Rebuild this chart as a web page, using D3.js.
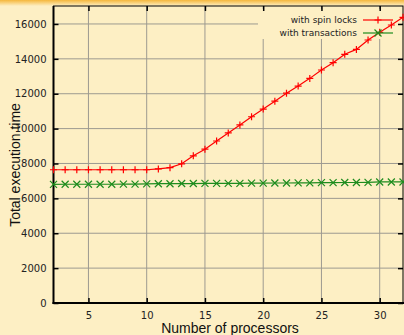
<!DOCTYPE html>
<html>
<head>
<meta charset="utf-8">
<script src="https://cdn.jsdelivr.net/npm/d3@7"></script>
<style>
  body { margin: 0; background: #fdefc4; }
  svg { display: block; font-family: "DejaVu Sans", sans-serif; }
</style>
</head>
<body>
<svg id="chart" width="404" height="335"></svg>
<script>
// processors 2..32
const processors = [2,3,4,5,6,7,8,9,10,11,12,13,14,15,16,17,18,19,20,21,22,23,24,25,26,27,28,29,30,31,32];
const spinLocks = [7640,7640,7640,7640,7640,7640,7640,7640,7640,7690,7760,7980,8440,8820,9290,9750,10210,10680,11120,11570,12030,12440,12880,13360,13780,14260,14540,15080,15520,15940,16380];
const transactions = [6800,6810,6810,6810,6810,6810,6820,6820,6830,6840,6840,6850,6850,6860,6860,6860,6860,6870,6870,6880,6880,6890,6890,6900,6900,6910,6910,6920,6940,6940,6940];
const xTicks = [5,10,15,20,25,30];
const yTicks = [0,2000,4000,6000,8000,10000,12000,14000,16000];

const svg = d3.select("#chart");
const W = 404, H = 335;
const m = {left: 53.5, right: 1, top: 6, bottom: 32};

// top orange strip
const grad = svg.append("defs").append("linearGradient")
  .attr("id", "topbar").attr("x1", 0).attr("y1", 0).attr("x2", 0).attr("y2", 1);
grad.append("stop").attr("offset", "0%").attr("stop-color", "#f5b73c");
grad.append("stop").attr("offset", "100%").attr("stop-color", "#fdefc4");
svg.append("rect").attr("width", W).attr("height", H).attr("fill", "#fdefc4");
svg.append("rect").attr("width", W).attr("height", 6).attr("fill", "url(#topbar)");

const x = d3.scaleLinear().domain([2, 32]).range([m.left, W - m.right]);
const y = d3.scaleLinear().domain([0, 17030]).range([H - m.bottom, m.top]);

// grid
const grid = svg.append("g").attr("stroke", "#9d9a90").attr("stroke-width", 1);
grid.selectAll(".gx").data(xTicks).join("line")
  .attr("x1", d => x(d)).attr("x2", d => x(d))
  .attr("y1", y(0)).attr("y2", y.range()[1]);
grid.selectAll(".gy").data(yTicks.filter(d => d > 0)).join("line")
  .attr("x1", m.left).attr("x2", W - m.right)
  .attr("y1", d => y(d)).attr("y2", d => y(d));

// legend background covers grid
svg.append("rect").attr("x", 258).attr("y", 9).attr("width", 144).attr("height", 30)
  .attr("fill", "#fdefc4");

// frame
svg.append("rect").attr("x", m.left).attr("y", m.top)
  .attr("width", W - m.right - m.left).attr("height", y(0) - m.top)
  .attr("fill", "none").attr("stroke", "#000").attr("stroke-width", 1);
svg.append("line").attr("x1", m.left).attr("x2", m.left).attr("y1", m.top).attr("y2", y(0) + 1)
  .attr("stroke", "#000").attr("stroke-width", 2);
svg.append("line").attr("x1", m.left - 1).attr("x2", W).attr("y1", y(0)).attr("y2", y(0))
  .attr("stroke", "#000").attr("stroke-width", 2);

// axes with inward ticks
const fmt = d3.format("d");
const xAxis = svg.append("g").attr("transform", `translate(0,${y(0)})`)
  .call(d3.axisBottom(x).tickValues(xTicks).tickSize(-5).tickPadding(9).tickFormat(fmt));
const xTop = svg.append("g").attr("transform", `translate(0,${m.top})`)
  .call(d3.axisTop(x).tickValues(xTicks).tickSize(-5).tickFormat(""));
const yAxis = svg.append("g").attr("transform", `translate(${m.left},0)`)
  .call(d3.axisLeft(y).tickValues(yTicks).tickSize(-5).tickPadding(7).tickFormat(fmt));
const yRight = svg.append("g").attr("transform", `translate(${W - m.right},0)`)
  .call(d3.axisRight(y).tickValues(yTicks).tickSize(-5).tickFormat(""));
[xAxis, xTop, yAxis, yRight].forEach(g => {
  g.select(".domain").remove();
  g.selectAll(".tick line").attr("stroke", "#000").attr("stroke-width", 1.5);
  g.selectAll("text").attr("fill", "#222").attr("font-size", 10)
    .attr("font-family", "DejaVu Sans, sans-serif");
});

// series
const series = [
  {name: "with spin locks", values: spinLocks, color: "#ff0000", marker: "plus"},
  {name: "with transactions", values: transactions, color: "#1e8c1e", marker: "cross"}
];
const line = d3.line().x(d => x(d[0])).y(d => y(d[1]));

function drawMarker(g, type, color) {
  const s = 3.5;
  if (type === "plus") {
    g.append("path").attr("d", `M${-s},0H${s}M0,${-s}V${s}`);
  } else {
    g.append("path").attr("d", `M${-s},${-s}L${s},${s}M${-s},${s}L${s},${-s}`);
  }
  g.selectAll("path").attr("stroke", color).attr("stroke-width", 1.2).attr("fill", "none");
}

series.forEach(s => {
  const pts = processors.map((p, i) => [p, s.values[i]]);
  svg.append("path").datum(pts).attr("d", line)
    .attr("fill", "none").attr("stroke", s.color).attr("stroke-width", 1.2);
  svg.append("g").selectAll("g").data(pts).join("g")
    .attr("transform", d => `translate(${x(d[0])},${y(d[1])})`)
    .each(function() { drawMarker(d3.select(this), s.marker, s.color); });
});

// legend
const leg = svg.append("g");
series.forEach((s, i) => {
  const ly = 20 + i * 13;
  leg.append("text").attr("x", 357).attr("y", ly).attr("dy", "0.35em")
    .attr("text-anchor", "end").attr("font-size", 9).attr("fill", "#222").text(s.name);
  leg.append("line").attr("x1", 363).attr("x2", 393).attr("y1", ly).attr("y2", ly)
    .attr("stroke", s.color).attr("stroke-width", 1.2);
  const mg = leg.append("g").attr("transform", `translate(378,${ly})`);
  drawMarker(mg, s.marker, s.color);
});

// axis titles
svg.append("text").attr("x", 230).attr("y", 333).attr("text-anchor", "middle")
  .attr("font-size", 14).attr("font-family", "Liberation Sans, Arial, sans-serif")
  .attr("fill", "#111").text("Number of processors");
svg.append("text").attr("transform", `translate(20,165) rotate(-90)`)
  .attr("text-anchor", "middle").attr("font-size", 14)
  .attr("font-family", "Liberation Sans, Arial, sans-serif")
  .attr("fill", "#111").text("Total execution time");
</script>
</body>
</html>
